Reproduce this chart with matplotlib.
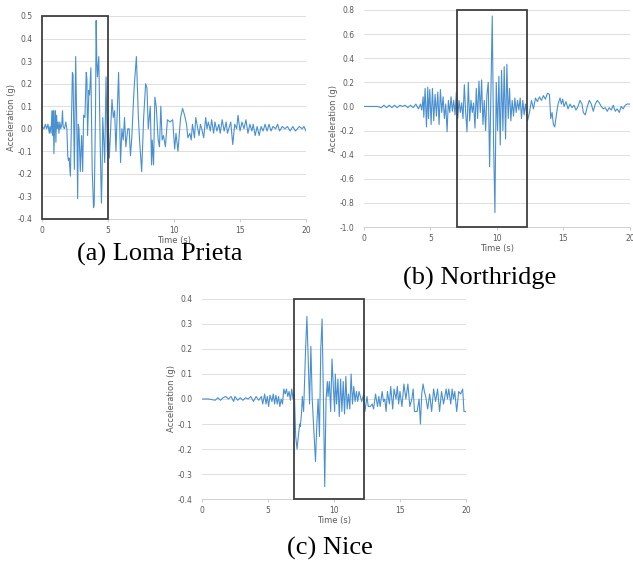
import numpy as np
import matplotlib.pyplot as plt
from matplotlib.patches import Rectangle

# Datos leídos a ojo de los acelerogramas

# (a) Loma Prieta
t_loma = [0.0, 0.15, 0.25, 0.35, 0.45, 0.55, 0.6, 0.68, 0.75, 0.8, 0.85, 0.9, 0.97, 1.0, 1.05, 1.1,
          1.15, 1.22, 1.28, 1.35, 1.42, 1.5, 1.55, 1.6, 1.7, 1.8, 1.88, 1.95, 2.0, 2.05, 2.15, 2.2,
          2.3, 2.35, 2.45, 2.55, 2.65, 2.7, 2.75, 2.8, 2.9, 2.95, 3.0, 3.08, 3.15, 3.25, 3.35, 3.4,
          3.45, 3.55, 3.6, 3.7, 3.8, 3.9, 3.95, 4.05, 4.1, 4.15, 4.2, 4.3, 4.4, 4.5, 4.55, 4.6,
          4.75, 4.85, 4.95, 5.0, 5.1, 5.3, 5.4, 5.5, 5.6, 5.8, 5.95, 6.05, 6.15, 6.25, 6.35, 6.5,
          6.6, 6.7, 6.8, 6.95, 7.0, 7.15, 7.3, 7.4, 7.55, 7.7, 7.85, 7.95, 8.05, 8.2, 8.3, 8.35,
          8.45, 8.55, 8.65, 8.8, 8.9, 9.0, 9.1, 9.2, 9.35, 9.5, 9.7, 9.9, 10.05, 10.15, 10.3, 10.5,
          10.65, 10.8, 10.95, 11.05, 11.2, 11.3, 11.4, 11.55, 11.65, 11.8, 11.9, 12.0, 12.1, 12.25,
          12.4, 12.5, 12.6, 12.75, 12.85, 13.0, 13.1, 13.25, 13.4, 13.5, 13.65, 13.8, 13.95, 14.05,
          14.15, 14.3, 14.45, 14.6, 14.75, 14.85, 15.0, 15.15, 15.3, 15.45, 15.6, 15.75, 15.9, 16.0,
          16.15, 16.3, 16.45, 16.6, 16.75, 16.9, 17.05, 17.2, 17.35, 17.5, 17.7, 17.85, 18.0, 18.2,
          18.4, 18.6, 18.8, 19.0, 19.2, 19.5, 19.7, 19.85, 20.0]
a_loma = [0.01, 0.0, 0.02, 0.0, 0.02, -0.02, 0.01, -0.02, 0.08, -0.03, 0.08, -0.11, 0.05, 0.08, -0.06, 0.06,
          0.0, 0.03, -0.02, 0.03, 0.0, 0.02, 0.08, 0.01, 0.0, 0.03, 0.0, -0.12, -0.14, -0.13, -0.21, -0.05,
          0.25, 0.24, -0.18, 0.32, -0.05, -0.31, 0.02, 0.0, -0.19, -0.1, -0.03, -0.19, 0.06, 0.05, 0.25, 0.22,
          -0.03, 0.17, 0.15, 0.27, -0.18, -0.35, -0.34, 0.06, 0.48, 0.3, 0.23, 0.32, -0.05, -0.33, -0.2, 0.05,
          -0.15, 0.23, -0.1, 0.05, -0.13, 0.13, 0.05, 0.08, -0.1, 0.25, -0.15, 0.0, -0.05, 0.05, -0.08, 0.0,
          0.0, -0.12, -0.04, 0.15, 0.2, 0.32, 0.05, -0.06, -0.19, 0.05, 0.2, 0.18, 0.0, 0.1, -0.16, -0.05,
          -0.16, 0.14, 0.1, -0.05, -0.08, 0.1, -0.05, -0.03, -0.08, 0.04, 0.03, 0.04, -0.09, -0.02, -0.1, 0.05,
          0.09, 0.06, 0.02, -0.04, -0.02, -0.05, 0.02, -0.04, 0.05, 0.0, -0.03, 0.02, 0.0, -0.04,
          0.05, 0.0, 0.03, -0.01, 0.04, -0.02, 0.03, -0.01, 0.02, -0.02, 0.04, -0.01, 0.03, -0.02,
          0.0, 0.03, -0.07, 0.02, 0.0, 0.06, -0.01, 0.03, 0.0, 0.04, -0.02, 0.02, -0.01, 0.02,
          -0.03, 0.01, -0.03, 0.01, -0.01, 0.02, -0.01, 0.02, -0.01, 0.01, 0.0, 0.02, -0.01, 0.01,
          0.0, 0.01, -0.01, 0.01, -0.01, 0.01, 0.0, 0.01, -0.01]

# (b) Northridge
t_north = [0.0, 0.5, 1.0, 1.3, 1.5, 1.7, 1.9, 2.1, 2.3, 2.5, 2.7, 2.9, 3.1, 3.3, 3.5, 3.7, 3.9, 4.1,
           4.25, 4.35, 4.45, 4.5, 4.6, 4.7, 4.8, 4.85, 4.95, 5.05, 5.15, 5.25, 5.35, 5.45, 5.55, 5.65,
           5.75, 5.85, 5.95, 6.05, 6.15, 6.25, 6.35, 6.45, 6.55, 6.65, 6.75, 6.85, 6.95, 7.05, 7.15,
           7.25, 7.35, 7.45, 7.55, 7.65, 7.75, 7.85, 7.95, 8.05, 8.15, 8.25, 8.35, 8.45, 8.55, 8.65,
           8.75, 8.85, 8.95, 9.05, 9.15, 9.25, 9.35, 9.45, 9.55, 9.65, 9.75, 9.85, 9.95, 10.05, 10.15,
           10.25, 10.35, 10.45, 10.55, 10.65, 10.75, 10.85, 10.95, 11.05, 11.15, 11.25, 11.35, 11.45,
           11.55, 11.65, 11.75, 11.85, 11.95, 12.05, 12.15, 12.3, 12.45, 12.6, 12.75, 12.9, 13.05,
           13.2, 13.35, 13.5, 13.65, 13.8, 13.95, 14.05, 14.15, 14.25, 14.35, 14.5, 14.6, 14.75,
           14.85, 14.95, 15.05, 15.2, 15.35, 15.5, 15.65, 15.8, 15.95, 16.1, 16.25, 16.4, 16.5,
           16.65, 16.8, 16.95, 17.1, 17.25, 17.4, 17.55, 17.7, 17.85, 18.0, 18.15, 18.3, 18.45,
           18.6, 18.75, 18.9, 19.05, 19.2, 19.35, 19.5, 19.65, 19.8, 20.0]
a_north = [0.0, 0.0, 0.0, -0.01, 0.01, -0.01, 0.01, -0.01, 0.01, -0.01, 0.01, 0.0, 0.01, -0.01, 0.01, -0.01, 0.02, -0.02,
           0.02, -0.03, 0.08, -0.09, 0.15, -0.17, 0.16, -0.1, 0.14, -0.15, 0.15, -0.12, 0.1, -0.08, 0.12, -0.15,
           0.14, -0.05, 0.08, -0.1, 0.02, -0.21, 0.05, -0.05, 0.08, -0.04, 0.05, -0.07, 0.12, -0.1, 0.05,
           -0.05, 0.03, -0.1, 0.18, -0.05, -0.21, 0.2, -0.12, 0.05, -0.05, 0.03, -0.18, 0.15, -0.1, 0.21,
           -0.05, 0.22, -0.15, 0.05, -0.2, 0.1, 0.2, -0.5, 0.1, 0.75, -0.3, -0.88, 0.2, -0.2, 0.25,
           -0.32, 0.3, -0.2, 0.33, -0.27, 0.35, -0.1, 0.15, -0.12, 0.05, -0.08, 0.07, -0.05,
           0.05, -0.03, 0.07, -0.1, 0.05, -0.07, 0.02, -0.12, -0.05, 0.05, -0.02, 0.07, 0.04,
           0.08, 0.05, 0.09, 0.06, 0.11, 0.1, -0.1, -0.05, -0.15, -0.17, -0.05, 0.02, 0.07,
           0.02, 0.06, 0.0, 0.04, -0.02, 0.02, -0.01, 0.01, -0.03, 0.0, 0.05, 0.02, -0.05,
           -0.07, 0.0, 0.05, 0.02, -0.04, 0.02, 0.05, 0.03, 0.0, -0.02, -0.01, -0.04, -0.01,
           -0.03, 0.01, -0.04, -0.02, -0.05, 0.0, -0.02, 0.01, 0.02, 0.02]

# (c) Nice
t_nice = [0.0, 0.5, 1.0, 1.2, 1.4, 1.6, 1.8, 2.0, 2.2, 2.4, 2.5, 2.7, 2.9, 3.1, 3.3, 3.5, 3.7, 3.9,
          4.1, 4.3, 4.5, 4.6, 4.75, 4.85, 4.95, 5.05, 5.15, 5.3, 5.4, 5.5, 5.6, 5.7, 5.8, 5.9, 6.0,
          6.1, 6.2, 6.3, 6.4, 6.5, 6.6, 6.7, 6.8, 6.9, 7.0, 7.1, 7.2, 7.3, 7.4, 7.45, 7.55, 7.6, 7.7,
          7.85, 7.95, 8.05, 8.15, 8.25, 8.35, 8.45, 8.6, 8.7, 8.8, 8.9, 9.0, 9.1, 9.2, 9.3, 9.4, 9.5,
          9.55, 9.65, 9.75, 9.85, 9.95, 10.05, 10.1, 10.2, 10.3, 10.4, 10.5, 10.6, 10.7, 10.8, 10.9,
          11.0, 11.1, 11.2, 11.3, 11.4, 11.5, 11.6, 11.7, 11.8, 11.9, 12.0, 12.1, 12.25, 12.35, 12.5,
          12.6, 12.75, 12.9, 13.0, 13.15, 13.3, 13.4, 13.5, 13.65, 13.75, 13.85, 13.95, 14.05, 14.2,
          14.3, 14.45, 14.55, 14.7, 14.8, 14.9, 15.0, 15.15, 15.3, 15.45, 15.6, 15.75, 15.9, 16.0,
          16.1, 16.3, 16.45, 16.55, 16.65, 16.75, 16.85, 16.95, 17.1, 17.25, 17.4, 17.55, 17.7,
          17.85, 18.0, 18.15, 18.3, 18.5, 18.6, 18.7, 18.85, 18.95, 19.05, 19.15, 19.3, 19.45,
          19.6, 19.75, 19.85, 20.0]
a_nice = [0.0, 0.0, -0.005, 0.005, -0.005, 0.005, 0.01, 0.0, 0.01, -0.01, 0.01, -0.005, 0.005, -0.005, 0.005, 0.0, 0.01, -0.01,
          0.01, -0.005, 0.01, -0.02, 0.02, -0.02, 0.01, -0.03, 0.015, -0.01, 0.02, -0.02, 0.015, -0.02, 0.01, -0.03, 0.0,
          -0.02, 0.04, 0.02, 0.04, 0.01, 0.03, -0.005, 0.04, 0.0, 0.02, -0.15, -0.2, -0.15, -0.1, -0.11, -0.05, 0.01, -0.05,
          0.2, 0.33, 0.15, -0.02, 0.21, 0.0, -0.1, -0.25, -0.1, 0.0, -0.15, 0.2, 0.32, 0.0, -0.35, 0.0, 0.07,
          0.01, 0.07, -0.05, 0.16, 0.05, -0.05, 0.1, -0.02, 0.08, -0.07, 0.08, -0.05, 0.07, -0.06, 0.09,
          -0.04, 0.02, -0.04, 0.1, -0.02, 0.05, -0.01, 0.03, -0.01, 0.03, 0.01, -0.01, 0.02, -0.05, 0.01,
          -0.03, -0.03, -0.02, -0.04, 0.02, -0.03, 0.01, -0.03, 0.03, -0.01, 0.0, -0.05, 0.03, -0.02,
          0.05, -0.04, 0.04, 0.0, 0.05, -0.02, 0.03, -0.03, 0.06, 0.0, 0.06, -0.03, 0.0, 0.04,
          -0.05, -0.05, 0.0, -0.1, 0.02, 0.06, 0.03, 0.01, -0.04, 0.02, -0.05, 0.04, -0.01,
          0.04, -0.05, 0.03, -0.02, 0.04, 0.0, 0.04, -0.02, 0.04, 0.0, 0.03, -0.05, 0.03,
          0.02, 0.04, -0.05, -0.05]

paneles = [
    # datos, posición del eje, límites y, ticks y, ventana marcada, título, centro del título
    (t_loma, a_loma, [0.0664, 0.6138, 0.417, 0.358], (-0.4, 0.5), np.arange(-0.4, 0.51, 0.1), (0, 5),
     '(a) Loma Prieta', (0.2528, 0.551)),
    (t_north, a_north, [0.575, 0.5996, 0.420, 0.3828], (-1.0, 0.8), np.arange(-1.0, 0.81, 0.2), (7, 12.25),
     '(b) Northridge', (0.758, 0.509)),
    (t_nice, a_nice, [0.3191, 0.1199, 0.417, 0.3528], (-0.4, 0.4), np.arange(-0.4, 0.41, 0.1), (7, 12.25),
     '(c) Nice', (0.521, 0.033)),
]

azul = '#4a90d0'
gris = '#595959'

fig = plt.figure(figsize=(6.33, 5.67), dpi=100)

for t, acc, pos, ylim, yticks, ventana, titulo, centro in paneles:
    ax = fig.add_axes(pos)
    ax.plot(t, acc, color=azul, lw=0.8)
    ax.set_xlim(0, 20)
    ax.set_ylim(*ylim)
    ax.set_xticks([0, 5, 10, 15, 20])
    ax.set_yticks(yticks)
    ax.set_yticklabels([f'{round(v, 1) + 0.0:.1f}' for v in yticks])
    ax.grid(axis='y', color='#d9d9d9', lw=0.6)
    ax.set_axisbelow(True)
    for s in ['left', 'right', 'top']:
        ax.spines[s].set_visible(False)
    ax.spines['bottom'].set_color('#d0d0d0')
    ax.spines['bottom'].set_linewidth(0.7)
    ax.tick_params(axis='y', length=0, labelsize=5.5, labelcolor=gris, pad=7)
    ax.tick_params(axis='x', length=2, color='#d0d0d0', labelsize=5.5, labelcolor=gris, pad=3)
    ax.set_xlabel('Time (s)', fontsize=6, color=gris, labelpad=1)
    ax.set_ylabel('Acceleration (g)', fontsize=6, color=gris, labelpad=1)

    # Ventana de la fase fuerte
    rect = Rectangle((ventana[0], ylim[0]), ventana[1] - ventana[0], ylim[1] - ylim[0],
                     fill=False, edgecolor='#404040', lw=1.3, clip_on=False, zorder=5)
    ax.add_patch(rect)

    fig.text(centro[0], centro[1], titulo, ha='center', va='center',
             fontsize=19, family='Liberation Serif')

plt.savefig('out.png', dpi=100)
